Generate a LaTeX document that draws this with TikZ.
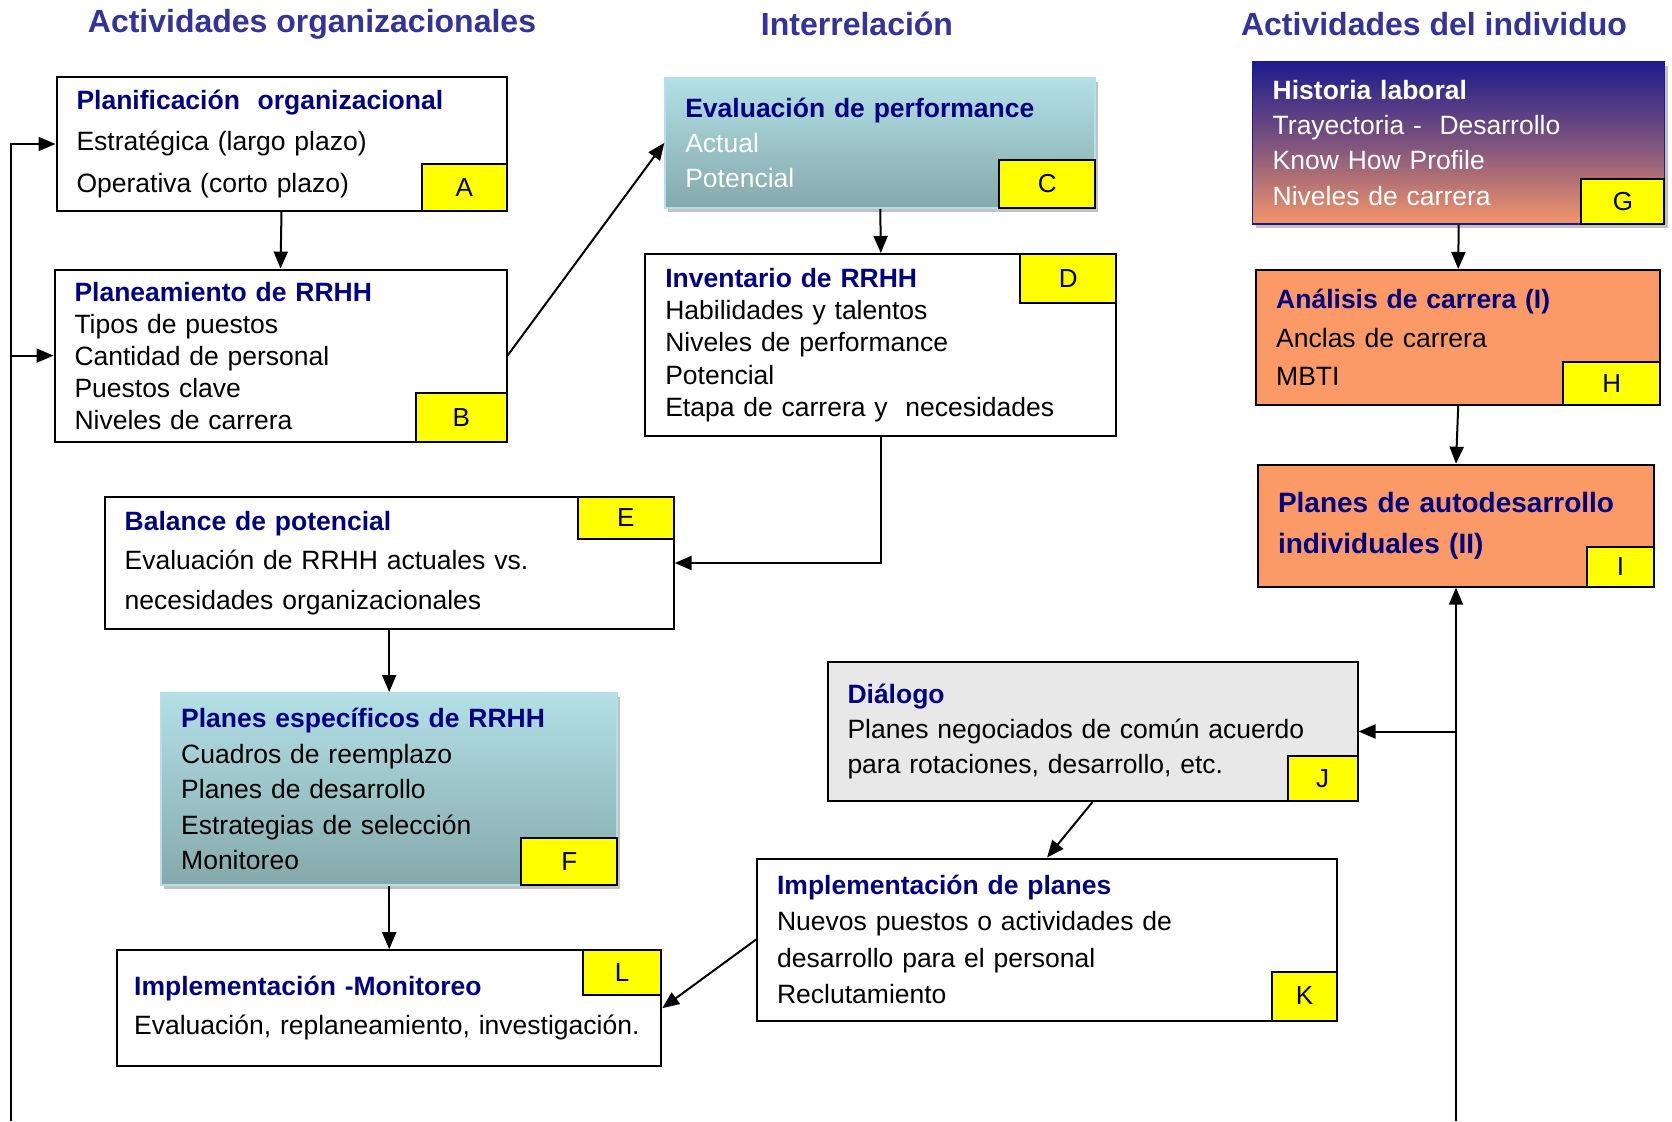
\documentclass[tikz,border=0pt]{standalone}
\usepackage{fontspec}
\setmainfont{Liberation Sans}
\usetikzlibrary{arrows.meta,shadows}

\definecolor{titleblue}{HTML}{000080}
\definecolor{headblue}{HTML}{333399}
\definecolor{tagyellow}{HTML}{FFFF00}
\definecolor{cyantop}{HTML}{B2E0E6}
\definecolor{cyanbot}{HTML}{85A9AB}
\definecolor{navytop}{HTML}{1C1C8E}
\definecolor{salmon}{HTML}{F4966A}
\definecolor{orangebox}{HTML}{FB9A66}
\definecolor{greybox}{HTML}{E8E8E8}

\tikzset{
  box/.style 2 args={draw, line width=2pt, align=left, inner xsep=20pt, inner ysep=0pt,
    text width=#1, minimum height=#2},
  tag/.style 2 args={draw, line width=2pt, fill=tagyellow, inner sep=0pt,
    minimum width=#1, minimum height=#2, font=\fontsize{26}{30}\selectfont},
  head/.style={font=\fontsize{32}{36}\selectfont\bfseries, text=headblue},
  shade cyan/.style={draw=cyantop, top color=cyantop, bottom color=cyanbot,
    drop shadow={shadow xshift=3pt, shadow yshift=-4pt, fill=black!60, opacity=0.4}},
  flow/.style={-{Triangle[length=17pt,width=14pt]}, line width=2pt},
}
\newcommand{\ttl}[1]{\textcolor{titleblue}{\textbf{#1}}}

\begin{document}
\begin{tikzpicture}[x=1pt,y=-1pt]
	\useasboundingbox (0,0) rectangle (1672,1121);

	% column headers
	\node[head] (h1) at (312,24) {Actividades organizacionales};
	\node[head] (h2) at (857,24) {Interrelación};
	\node[head] (h3) at (1434,24) {Actividades del individuo};

	% organizational side
	\node[box={410pt}{134pt}, font=\fontsize{26.5}{41.6}\selectfont] (A) at (281.5,144)
		{\ttl{Planificación\ \ organizacional}\\Estratégica (largo plazo)\\Operativa (corto plazo)};
	\node[box={412pt}{172pt}, font=\fontsize{26.5}{32}\selectfont] (B) at (280.5,355.6)
		{\ttl{Planeamiento de RRHH}\\Tipos de puestos\\Cantidad de personal\\Puestos clave\\Niveles de carrera};
	\node[box={529pt}{132pt}, font=\fontsize{26.5}{39.5}\selectfont] (E) at (389.2,563)
		{\ttl{Balance de potencial}\\Evaluación de RRHH actuales vs.\\necesidades organizacionales};
	\node[box={416pt}{192pt}, shade cyan, font=\fontsize{26.5}{35.5}\selectfont] (F) at (389.2,789)
		{\ttl{Planes específicos de RRHH}\\Cuadros de reemplazo\\Planes de desarrollo\\Estrategias de selección\\Monitoreo};
	\node[box={510pt}{116pt}, inner xsep=17pt, font=\fontsize{26.5}{39.5}\selectfont] (L) at (389.2,1008.2)
		{\ttl{Implementación -Monitoreo}\\Evaluación, replaneamiento, investigación.};

	% interrelation
	\node[box={390pt}{130pt}, shade cyan, font=\fontsize{26.5}{35.2}\selectfont] (C) at (880.3,142.9)
		{\ttl{Evaluación de performance}\\\textcolor{white}{Actual}\\\textcolor{white}{Potencial}};
	\node[box={431pt}{182pt}, font=\fontsize{26.5}{32.3}\selectfont] (D) at (880.8,345)
		{\ttl{Inventario de RRHH}\\Habilidades y talentos\\Niveles de performance\\Potencial\\Etapa de carrera y\ \ necesidades};
	\node[box={490pt}{139pt}, fill=greybox, font=\fontsize{26.5}{35.2}\selectfont] (J) at (1092.5,731.5)
		{\ttl{Diálogo}\\Planes negociados de común acuerdo\\para rotaciones, desarrollo, etc.};
	\node[box={540pt}{162pt}, font=\fontsize{26.5}{36.6}\selectfont] (K) at (1047.1,939.5)
		{\ttl{Implementación de planes}\\Nuevos puestos o actividades de\\desarrollo para el personal\\Reclutamiento};

	% individual side
	\node[box={372pt}{162pt}, draw=navytop, line width=1.5pt, top color=navytop, bottom color=salmon,
		middle color=navytop!55!salmon, text=white,
		drop shadow={shadow xshift=3pt, shadow yshift=-4pt, fill=black!60, opacity=0.4},
		font=\fontsize{26.5}{35.2}\selectfont] (G) at (1458.7,142.9)
		{\textbf{Historia laboral}\\Trayectoria -\ \ Desarrollo\\Know How Profile\\Niveles de carrera};
	\node[box={364pt}{135pt}, fill=orangebox, font=\fontsize{26.5}{38.4}\selectfont] (H) at (1458.2,337.5)
		{\ttl{Análisis de carrera (I)}\\Anclas de carrera\\MBTI};
	\node[box={356pt}{122pt}, fill=orangebox, font=\fontsize{28}{40.5}\selectfont] (I) at (1456,525.7)
		{\ttl{Planes de autodesarrollo}\\\ttl{individuales (II)}};

	% letter tags
	\node[tag={84.5pt}{47pt}, anchor=south east] (tA) at (A.south east) {A};
	\node[tag={90.6pt}{49pt}, anchor=south east] (tB) at (B.south east) {B};
	\node[tag={96pt}{48pt}, anchor=south east] (tC) at (C.south east) {C};
	\node[tag={96pt}{49pt}, anchor=north east] (tD) at (D.north east) {D};
	\node[tag={96pt}{41.6pt}, anchor=north east] (tE) at (E.north east) {E};
	\node[tag={96pt}{47pt}, anchor=south east] (tF) at (F.south east) {F};
	\node[tag={83pt}{45pt}, anchor=south east] (tG) at (G.south east) {G};
	\node[tag={97pt}{43pt}, anchor=south east] (tH) at (H.south east) {H};
	\node[tag={67pt}{40pt}, anchor=south east] (tI) at (I.south east) {I};
	\node[tag={70pt}{45pt}, anchor=south east] (tJ) at (J.south east) {J};
	\node[tag={65pt}{49pt}, anchor=south east] (tK) at (K.south east) {K};
	\node[tag={78pt}{45pt}, anchor=north east] (tL) at (L.north east) {L};

	% loose ends of the feedback lines
	\coordinate (lbot) at (10.7,1121);
	\coordinate (rbot) at (1456,1121);

	\draw[flow] (A.south) -- (B.north);
	\draw[flow] (B.east) -- (C.west);
	\draw[flow] (C.south) -- (D.north);
	\draw[flow] (D.south) |- (E.east);
	\draw[flow] (E.south) -- (F.north);
	\draw[flow] (F.south) -- (L.north);
	\draw[flow] (G.south) -- (H.north);
	\draw[flow] (H.south) -- (I.north);
	\draw[flow] (J.south) -- (K.north);
	\draw[flow] (K.west) -- (L.east);
	\draw[flow] (rbot) -- (I.south);
	\draw[flow] (rbot |- J.east) -- (J.east);
	\draw[flow] (lbot) |- (A.west);
	\draw[flow] (lbot |- B.west) -- (B.west);

\end{tikzpicture}
\end{document}
